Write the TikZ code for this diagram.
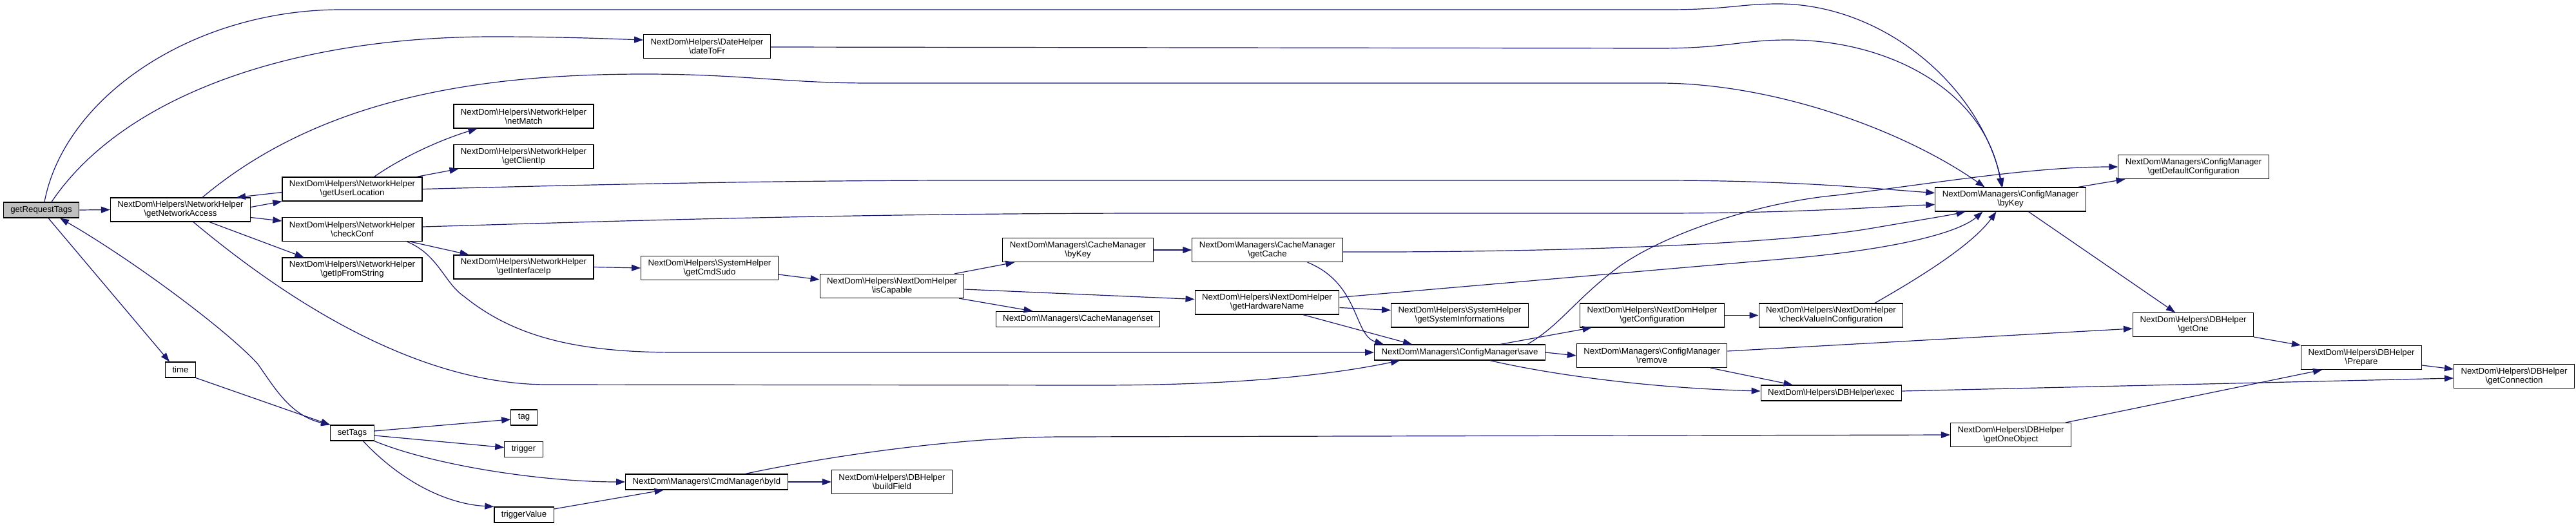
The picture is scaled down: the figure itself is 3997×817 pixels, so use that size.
\documentclass[tikz,border=0pt]{standalone}
\usepackage{fontspec}
\setmainfont{Liberation Sans}
\usetikzlibrary{arrows.meta}
\definecolor{edgeblue}{HTML}{191970}
\definecolor{rootgray}{HTML}{BFBFBF}
\newcommand{\ns}{\textbackslash}

\begin{document}
\begin{tikzpicture}[x=1pt, y=-1pt, >={Triangle[length=14pt,width=10pt]},
  fn/.style={draw=black, fill=white, line width=1.2pt, inner xsep=11pt, inner ysep=0pt,
    minimum height=24pt, align=center, font=\fontsize{13.2}{14}\selectfont},
  fntwo/.style={fn, minimum height=37pt},
  root/.style={fn, fill=rootgray},
  call/.style={draw=edgeblue, line width=1.2pt, ->}]
  \useasboundingbox (0,0) rectangle (3997,817);

  % Functions, one column per call depth
  \node[root] (reqtags) at (64,326) {getRequestTags};
  \node[fntwo] (netaccess) at (280,325.5) {NextDom\ns Helpers\ns NetworkHelper\\\ns getNetworkAccess};
  \node[fntwo] (userloc) at (546.5,293.5) {NextDom\ns Helpers\ns NetworkHelper\\\ns getUserLocation};
  \node[fntwo] (checkconf) at (546.5,356) {NextDom\ns Helpers\ns NetworkHelper\\\ns checkConf};
  \node[fntwo] (ipfromstr) at (546.5,418.5) {NextDom\ns Helpers\ns NetworkHelper\\\ns getIpFromString};
  \node[fn] (time) at (280,574) {time};
  \node[fn] (settags) at (546.5,672) {setTags};
  \node[fntwo] (netmatch) at (812.5,180.5) {NextDom\ns Helpers\ns NetworkHelper\\\ns netMatch};
  \node[fntwo] (clientip) at (812.5,243) {NextDom\ns Helpers\ns NetworkHelper\\\ns getClientIp};
  \node[fntwo] (ifaceip) at (812.5,414.5) {NextDom\ns Helpers\ns NetworkHelper\\\ns getInterfaceIp};
  \node[fn] (tag) at (813,648) {tag};
  \node[fn] (trigger) at (812.5,697.5) {trigger};
  \node[fn] (trigval) at (813,799) {triggerValue};
  \node[fntwo] (datefr) at (1097,72) {NextDom\ns Helpers\ns DateHelper\\\ns dateToFr};
  \node[fntwo] (cmdsudo) at (1101,416) {NextDom\ns Helpers\ns SystemHelper\\\ns getCmdSudo};
  \node[fn] (cmdbyid) at (1096.5,748) {NextDom\ns Managers\ns CmdManager\ns byId};
  \node[fntwo] (iscapable) at (1384,444) {NextDom\ns Helpers\ns NextDomHelper\\\ns isCapable};
  \node[fntwo] (buildfield) at (1384,748) {NextDom\ns Helpers\ns DBHelper\\\ns buildField};
  \node[fntwo] (cachekey) at (1672.5,388) {NextDom\ns Managers\ns CacheManager\\\ns byKey};
  \node[fn] (cacheset) at (1672.5,495.5) {NextDom\ns Managers\ns CacheManager\ns set};
  \node[fntwo] (getcache) at (1966.5,388) {NextDom\ns Managers\ns CacheManager\\\ns getCache};
  \node[fntwo] (hwname) at (1966,469.5) {NextDom\ns Helpers\ns NextDomHelper\\\ns getHardwareName};
  \node[fntwo] (sysinfo) at (2265,489.5) {NextDom\ns Helpers\ns SystemHelper\\\ns getSystemInformations};
  \node[fn] (cfgsave) at (2265,547) {NextDom\ns Managers\ns ConfigManager\ns save};
  \node[fntwo] (getconf) at (2563.5,489.5) {NextDom\ns Helpers\ns NextDomHelper\\\ns getConfiguration};
  \node[fntwo] (cfgremove) at (2563,552) {NextDom\ns Managers\ns ConfigManager\\\ns remove};
  \node[fntwo] (checkval) at (2841,489.5) {NextDom\ns Helpers\ns NextDomHelper\\\ns checkValueInConfiguration};
  \node[fn] (dbexec) at (2841.5,610) {NextDom\ns Helpers\ns DBHelper\ns exec};
  \node[fntwo] (cfgkey) at (3119.5,309.5) {NextDom\ns Managers\ns ConfigManager\\\ns byKey};
  \node[fntwo] (oneobject) at (3120,675) {NextDom\ns Helpers\ns DBHelper\\\ns getOneObject};
  \node[fntwo] (defconf) at (3403.5,259) {NextDom\ns Managers\ns ConfigManager\\\ns getDefaultConfiguration};
  \node[fntwo] (getone) at (3403,504) {NextDom\ns Helpers\ns DBHelper\\\ns getOne};
  \node[fntwo] (prepare) at (3664,555) {NextDom\ns Helpers\ns DBHelper\\\ns Prepare};
  \node[fntwo] (getconn) at (3901,584) {NextDom\ns Helpers\ns DBHelper\\\ns getConnection};

  % Straight calls
  \foreach \a/\b in {(reqtags.east)/(netaccess.west),
      ([yshift=4pt]netaccess.east)/(userloc.south west),
      ([yshift=-5pt]userloc.west)/([xshift=87pt]netaccess.north),
      ([yshift=-12pt]netaccess.east)/([yshift=13pt]checkconf.west),
      ([xshift=45pt]netaccess.south)/([xshift=-75pt]ipfromstr.north),
      ([xshift=100pt]userloc.north)/([xshift=-101pt]clientip.south),
      ([xshift=90pt]checkconf.south)/([xshift=-85pt]ifaceip.north),
      (ifaceip.east)/(cmdsudo.west),
      ([yshift=-10pt]cmdsudo.east)/([yshift=10pt]iscapable.west),
      ([xshift=97pt]iscapable.north)/([xshift=-98pt]cachekey.south),
      ([yshift=-5pt]iscapable.east)/([yshift=5pt]hwname.west),
      ([xshift=104pt]iscapable.south)/([xshift=-70pt]cacheset.north),
      (cachekey.east)/(getcache.west),
      ([yshift=-8pt]hwname.east)/([yshift=8pt]sysinfo.west),
      ([xshift=56pt]hwname.south)/([xshift=-74pt]cfgsave.north),
      ([xshift=63pt]cfgsave.north)/([xshift=-94pt]getconf.south),
      (cfgsave.east)/(cfgremove.west),
      (getconf.east)/(checkval.west),
      ([yshift=7pt]cfgremove.east)/([yshift=-6pt]getone.west),
      ([xshift=91pt]cfgremove.south)/([xshift=-60pt]dbexec.north),
      ([yshift=3pt]dbexec.east)/([yshift=-3pt]getconn.west),
      ([xshift=105pt]cfgkey.north)/([xshift=-106pt]defconf.south),
      ([xshift=28pt]cfgkey.south)/([xshift=-28pt]getone.north),
      (getone.south east)/(prepare.north west),
      ([yshift=-12pt]prepare.east)/([yshift=11pt]getconn.west),
      ([xshift=85pt]oneobject.north)/([xshift=-61pt]prepare.south),
      (cmdbyid.east)/(buildfield.west),
      ([yshift=3pt]settags.east)/([yshift=-3pt]tag.west),
      ([yshift=-4pt]settags.east)/([yshift=3pt]trigger.west),
      ([yshift=9pt]trigval.east)/([xshift=-67pt]cmdbyid.south),
      (time.south east)/(settags.north west),
      ([xshift=11pt]reqtags.south)/([xshift=-17pt]time.north)}
    \draw[call] \a -- \b;

  % Long calls over the top into ConfigManager byKey
  \draw[call] ([xshift=5pt]reqtags.north) .. controls (100,150) and (300,15) .. (529,15)
    -- (2587,15) .. controls (2680,15) and (2700,6) .. (2759,6)
    .. controls (2920,6) and (3070,130) .. ([xshift=-12pt]cfgkey.north);
  \draw[call] ([xshift=16pt]reqtags.north) .. controls (190,150) and (450,57) .. (765,57)
    .. controls (870,57) and (940,60) .. ([yshift=10pt]datefr.west);
  \draw[call] ([yshift=-1pt]datefr.east) -- (2574,75) .. controls (2680,75) and (2700,62) .. (2775,62)
    .. controls (2930,62) and (3080,140) .. ([xshift=-14pt]cfgkey.north);
  \draw[call] ([xshift=34pt]netaccess.north) .. controls (500,150) and (750,115) .. (1000,115)
    .. controls (1150,115) and (1220,129) .. (1350,129) -- (2574,129)
    .. controls (2750,129) and (2950,200) .. ([xshift=-40pt]cfgkey.north);
  \draw[call] (userloc.east) .. controls (900,287) and (1200,280) .. (1500,280) -- (2574,280)
    .. controls (2780,280) and (2900,292) .. ([yshift=10pt]cfgkey.west);
  \draw[call] ([yshift=4pt]checkconf.east) .. controls (900,345) and (1300,331) .. (1800,331)
    -- (2574,331) .. controls (2780,331) and (2900,322) .. ([yshift=-8pt]cfgkey.west);
  \draw[call] ([xshift=34pt]userloc.north) .. controls (630,240) and (690,215) .. ([xshift=-72pt]netmatch.south);

  % Calls into ConfigManager save
  \draw[call] ([xshift=85pt]checkconf.south) .. controls (680,395) and (690,440) .. (720,460)
    .. controls (800,525) and (900,547) .. (1050,547) -- (cfgsave.west);
  \draw[call] ([xshift=20pt]netaccess.south) .. controls (450,470) and (650,597) .. (850,597)
    -- (1700,598) .. controls (1900,598) and (2050,585) .. ([xshift=-93pt]cfgsave.south);
  \draw[call] ([xshift=62pt]getcache.south) .. controls (2110,440) and (2100,520) .. ([xshift=-118pt]cfgsave.north);

  % Calls back into ConfigManager byKey from below
  \draw[call] ([yshift=-3pt]getcache.east) .. controls (2400,392) and (2750,380) .. (2900,355)
    .. controls (2970,343) and (3020,335) .. ([xshift=-70pt]cfgkey.south);
  \draw[call] ([yshift=8pt]hwname.east) -- (2790,400) .. controls (2950,385) and (3040,360) .. ([xshift=-43pt]cfgkey.south);
  \draw[call] ([xshift=68pt]checkval.north) .. controls (2980,430) and (3060,380) .. ([xshift=-22pt]cfgkey.south);

  % ConfigManager save further on
  \draw[call] ([xshift=105pt]cfgsave.north) .. controls (2420,505) and (2440,470) .. (2504,420)
    .. controls (2570,368) and (2720,315) .. (2850,303)
    .. controls (3000,285) and (3150,259) .. (defconf.west);
  \draw[call] ([xshift=47pt]cfgsave.south) .. controls (2400,580) and (2550,602) .. ([yshift=3pt]dbexec.west);

  % setTags and CmdManager
  \draw[call] ([xshift=60pt]cmdbyid.north) .. controls (1300,705) and (1500,678) .. (1650,678) -- (oneobject.west);
  \draw[call] (settags.south east) .. controls (680,725) and (850,748) .. (cmdbyid.west);
  \draw[call] ([xshift=17pt]settags.south) .. controls (620,745) and (690,782) .. (trigval.north west);
  \draw[call, <->] ([xshift=29pt]reqtags.south) .. controls (200,400) and (350,510) .. (400,565)
    .. controls (425,600) and (450,645) .. (settags.north west);
\end{tikzpicture}
\end{document}
